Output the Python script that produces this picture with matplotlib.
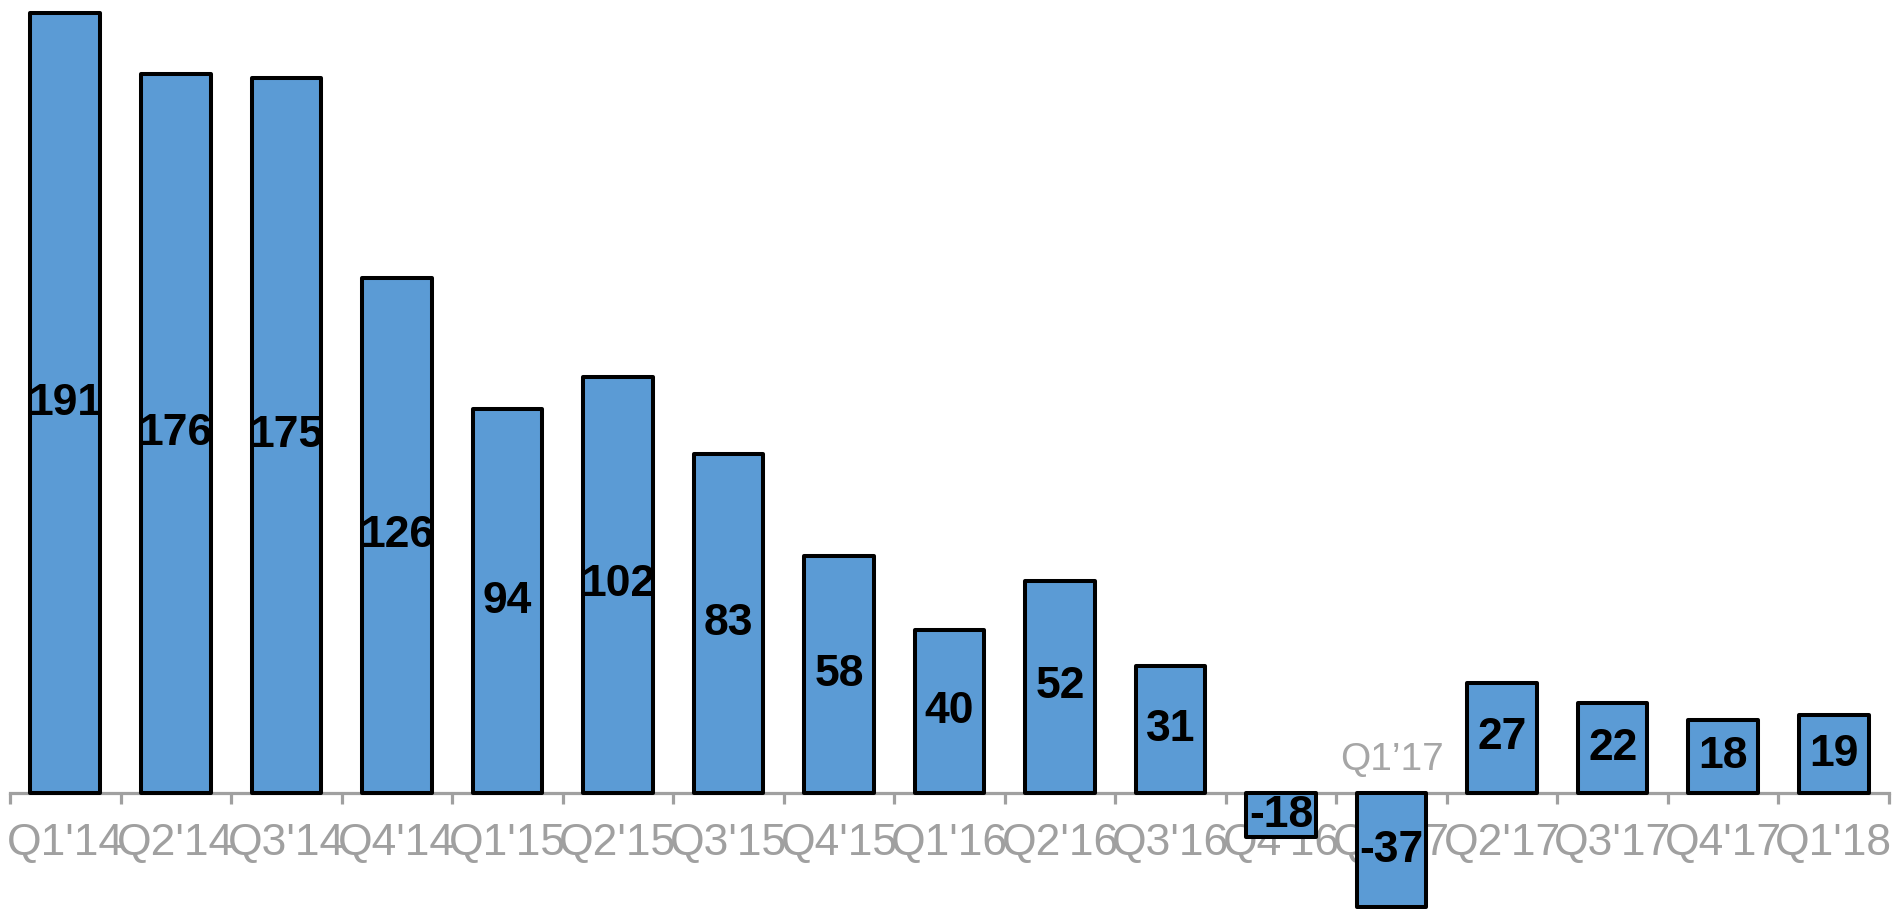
import matplotlib
matplotlib.use("Agg")
import matplotlib.pyplot as plt
import numpy as np

quarters = ["Q1'14", "Q2'14", "Q3'14", "Q4'14", "Q1'15", "Q2'15", "Q3'15", "Q4'15",
            "Q1'16", "Q2'16", "Q3'16", "Q4'16", "Q1'17", "Q2'17", "Q3'17", "Q4'17", "Q1'18"]
values = [191, 176, 175, 126, 94, 102, 83, 58, 40, 52, 31, -18, -37, 27, 22, 18, 19]
# drawn bar extents (negative bars are shorter than their labels)
bar_heights = [191, 176, 175, 126, 94, 102, 83, 58, 40, 52, 31, -10.8, -28, 27, 22, 18, 19]
extra_label = "Q1\u201917"
extra_label_index = 12
extra_label_y = 8.2

plt.rcParams['font.family'] = ['Liberation Sans', 'DejaVu Sans']

W, H = 1893, 909
fig = plt.figure(figsize=(W / 100, H / 100), dpi=100)
ax = fig.add_axes([10 / W, 0, 1879 / W, 1])
ax.set_xlim(-0.5, len(quarters) - 0.5)
ax.set_ylim(-28.4, 194.2)
ax.set_axisbelow(True)

x = np.arange(len(quarters))
ax.bar(x, bar_heights, width=0.63, color="#5B9BD5", edgecolor="black",
       linewidth=2.9, joinstyle="round", zorder=1)

for xi, h, v in zip(x, bar_heights, values):
    ax.text(xi, h / 2, f"{v}", ha="center", va="center", fontsize=32,
            fontweight="bold", color="black", zorder=3)

ax.text(extra_label_index, extra_label_y, extra_label, ha="center", va="center",
        fontsize=28, color="#A6A6A6", zorder=3)

for s in ["left", "right", "top"]:
    ax.spines[s].set_visible(False)
ax.spines["bottom"].set_position(("data", 0))
ax.spines["bottom"].set_color("#A0A0A0")
ax.spines["bottom"].set_linewidth(2.3)
ax.spines["bottom"].set_zorder(0.6)

ax.set_yticks([])
ax.set_xticks(x)
ax.set_xticklabels(quarters)
ax.set_xticks(np.arange(len(quarters) + 1) - 0.5, minor=True)
ax.tick_params(axis="x", which="major", length=0, pad=21.5, labelsize=32, labelcolor="#A0A0A0")
ax.tick_params(axis="x", which="minor", length=8, width=2.3, color="#A0A0A0", direction="out")

fig.savefig("out.png", dpi=100)
